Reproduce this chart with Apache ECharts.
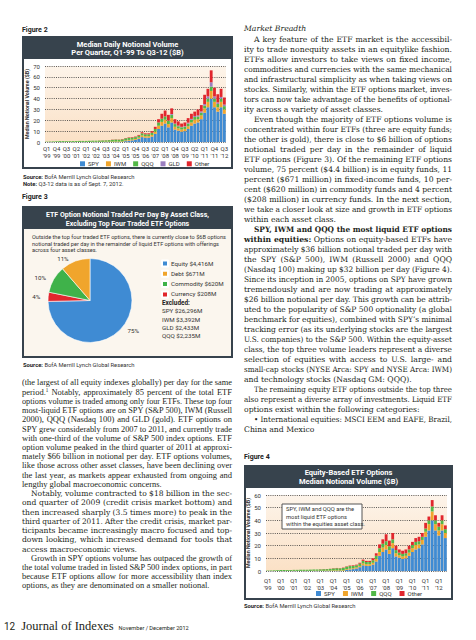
<!DOCTYPE html>
<html><head><meta charset="utf-8">
<script src="https://cdn.jsdelivr.net/npm/echarts@6/dist/echarts.min.js"></script>
<style>
html,body{margin:0;padding:0;background:#fff;}
#page{position:relative;width:476px;height:640px;overflow:hidden;background:#fff;}
#chart{position:absolute;left:0;top:0;width:476px;height:640px;}
.ln{white-space:nowrap;color:#231f20;position:absolute;}
.ln span{display:inline-block;transform-origin:0 50%;}
.ln sup{font-size:60%;line-height:0;vertical-align:3px;}
</style></head>
<body><div id="page"><div id="chart"></div></div>
<script>
// ---------------- data ----------------
const years = ["'99","'00","'01","'02","'03","'04","'05","'06","'07","'08","'09","'10","'11","'12"];
const quarterNames = ['Q1','Q2','Q3','Q4'];
const quarterCount = 55; // Q1-99 .. Q3-12

const spy = [0,0,0,0, 0,0,0,0, 0,0,0,0, 0,0,0,0, 0,0,0,0, 0,0,0,0,
  0.8,1.2,1.5,2.0, 3.0,4.5,4.0,4.0, 5.0,7.5,12.0,15.0, 17.0,13.5,18.0,11.5,
  10.5,9.5,10.0,12.0, 15.0,17.0,18.0,21.0, 27.0,32.0,40.0,32.0, 28.0,32.0,26.0];
const iwm = [0,0,0,0, 0,0,0.1,0.1, 0.1,0.1,0.1,0.1, 0.1,0.1,0.2,0.2, 0.2,0.2,0.3,0.3, 0.4,0.4,0.4,0.5,
  0.6,0.7,0.7,0.8, 1.0,1.5,1.3,1.3, 1.5,2.0,3.0,3.5, 3.5,3.0,4.0,2.5,
  2.0,2.0,2.0,2.5, 3.0,3.5,3.0,3.5, 4.0,5.0,7.0,5.0, 4.0,5.0,4.0];
const qqq = [0.3,0.4,0.5,0.6, 0.8,0.8,0.7,0.7, 0.8,0.8,0.9,0.9, 0.9,1.0,1.0,1.0, 1.1,1.2,1.2,1.4, 1.6,1.8,1.7,1.9,
  2.0,2.0,1.8,1.7, 1.8,2.0,1.8,1.8, 2.0,2.5,3.0,3.0, 3.0,3.0,3.0,2.5,
  2.0,2.0,2.0,2.5, 2.5,2.5,2.5,2.5, 2.5,3.0,4.0,3.0, 3.0,3.0,3.0];
const gld = [0,0,0,0, 0,0,0,0, 0,0,0,0, 0,0,0,0, 0,0,0,0, 0,0,0,0,
  0,0,0,0, 0,0,0,0, 0,0,0,0, 0,0.3,0.8,0.5,
  0.6,0.5,0.6,0.8, 0.8,1.0,1.0,1.2, 1.5,2.0,4.0,2.0, 1.5,1.5,1.5];
const otherAll = [0,0,0,0, 0,0,0,0, 0,0,0,0, 0,0,0,0, 0.1,0.1,0.1,0.1, 0.2,0.2,0.2,0.3,
  0.3,0.4,0.5,0.5, 0.7,1.0,0.9,0.9, 1.5,2.0,3.0,4.5, 5.5,5.2,5.2,4.0,
  3.9,3.0,3.4,4.2, 4.7,4.0,5.5,5.8, 8.5,7.0,11.0,8.0, 7.5,7.5,6.5];
const otherEquity = [0,0,0,0, 0,0,0,0, 0,0,0,0, 0,0,0,0, 0.1,0.1,0.1,0.1, 0.2,0.2,0.2,0.3,
  0.3,0.4,0.5,0.5, 0.7,1.0,0.9,0.9, 1.5,2.0,3.0,3.5, 5.5,4.5,5.0,3.5,
  2.5,2.5,3.0,3.0, 2.5,3.0,3.5,3.0, 4.5,3.0,5.0,4.0, 3.0,4.0,3.0];

const assetNames = ['Equity','Currency','Commodity','Debt'];
const assetValues = [4416, 208, 620, 671];
const legendOrder = ['Equity','Debt','Commodity','Currency'];
const excludedNames = ['SPY','IWM','GLD','QQQ'];
const excludedValues = [26296, 3392, 2433, 2235];

const fig2Ticks = [0,10,20,30,40,50,60,70];
const fig4Ticks = [0,10,20,30,40,50,60];

// ---------------- colours ----------------
const C = {SPY:'#3f8bd3', IWM:'#f0a52c', QQQ:'#52b847', GLD:'#9a7fc0', Other:'#e1262d'};
const pieColors = {Equity:'#3f8bd3', Debt:'#f0a52c', Commodity:'#3fb24a', Currency:'#e1262d'};
const PANEL = '#37434d';
const SANS = 'Roboto, "Noto Sans", sans-serif';

const quarters = [];
for (const y of years) for (const q of quarterNames) if (quarters.length < quarterCount) quarters.push(q + '\n' + y);

const peach = new echarts.graphic.LinearGradient(0,0,0,1,[{offset:0,color:'#fdf4ea'},{offset:1,color:'#fbe1c6'}]);

function xAx(gi, interval, margin){
  return {type:'category', gridIndex:gi, data:quarters, axisTick:{show:false}, axisLine:{show:false},
    axisLabel:{interval:interval, fontSize:6, lineHeight:7, color:'#333', margin:margin, fontFamily:SANS}};
}
function yAx(gi, ticks){
  return {type:'value', gridIndex:gi, min:ticks[0], max:ticks[ticks.length-1], interval:ticks[1]-ticks[0],
    axisLabel:{fontSize:6, color:'#333', margin:5, fontFamily:SANS},
    axisLine:{show:false}, axisTick:{show:false},
    splitLine:{lineStyle:{type:[1,1.2], color:'#333', width:0.8}},
    name:'Median Notional Volume ($B)', nameLocation:'middle', nameGap:14,
    nameTextStyle:{fontSize:5.3, fontWeight:'bold', color:'#333', fontFamily:SANS}};
}
function bar(name, data, gi, stack){
  return {type:'bar', name:name, data:data, stack:stack, xAxisIndex:gi, yAxisIndex:gi,
    barCategoryGap:'14%', itemStyle:{color:C[name]}, emphasis:{disabled:true}, silent:true};
}
function fmt(v){ return '$' + v.toLocaleString('en-US') + 'M'; }
const legendText = {fontSize:6, color:'#333', fontFamily:SANS, padding:[0,0,0,-2]};

const graphics = [
  // panels
  {type:'rect', z:-10, shape:{x:22,y:36,width:211,height:133}, style:{fill:PANEL}},
  {type:'rect', z:-9, shape:{x:24,y:59,width:207,height:108}, style:{fill:'#fff'}},
  {type:'rect', z:-10, shape:{x:22,y:206,width:211,height:152}, style:{fill:PANEL}},
  {type:'rect', z:-9, shape:{x:24,y:229,width:207,height:127}, style:{fill:'#fbf6ee'}},
  {type:'rect', z:-10, shape:{x:244,y:465,width:209,height:135}, style:{fill:PANEL}},
  {type:'rect', z:-9, shape:{x:246,y:488,width:205,height:110}, style:{fill:'#fff'}},
  // figure labels
  {type:'text', x:22, y:30, style:{text:'Figure 2', font:'bold 7px '+SANS, fill:'#222', verticalAlign:'middle'}},
  {type:'text', x:22, y:197, style:{text:'Figure 3', font:'bold 7px '+SANS, fill:'#222', verticalAlign:'middle'}},
  {type:'text', x:244, y:457, style:{text:'Figure 4', font:'bold 7px '+SANS, fill:'#222', verticalAlign:'middle'}},
  // titles
  {type:'text', x:127.5, y:48.5, z:10, style:{text:'Median Daily Notional Volume\nPer Quarter, Q1-99 To Q3-12 ($B)', font:'bold 7.5px '+SANS, lineHeight:8.5, fill:'#fff', align:'center', verticalAlign:'middle'}},
  {type:'text', x:127.5, y:219.5, z:10, style:{text:'ETF Option Notional Traded Per Day By Asset Class,\nExcluding Top Four Traded ETF Options', font:'bold 7px '+SANS, lineHeight:8.5, fill:'#fff', align:'center', verticalAlign:'middle'}},
  {type:'text', x:348.5, y:477, z:10, style:{text:'Equity-Based ETF Options\nMedian Notional Volume ($B)', font:'bold 7.5px '+SANS, lineHeight:8.5, fill:'#fff', align:'center', verticalAlign:'middle'}},
  // fig 3 subtitle
  {type:'text', x:32, y:243.5, z:10, style:{text:'Outside the top four traded ETF options, there is currently close to $6B options\nnotional traded per day in the remainder of liquid ETF options with offerings\nacross four asset classes.', font:'5.6px '+SANS, lineHeight:6.4, fill:'#333', verticalAlign:'middle'}},
  // excluded block
  {type:'text', x:162, y:319.5, z:10, style:{text:'{b|Excluded:}\n' + excludedNames.map((n,i)=>n+' '+fmt(excludedValues[i])).join('\n'),
     font:'6.2px '+SANS, lineHeight:8.2, fill:'#333', verticalAlign:'middle',
     rich:{b:{fontWeight:'bold', fontSize:6.4, fontFamily:SANS, fill:'#222', lineHeight:8.2}}}},
  // sources
  {type:'text', x:23, y:176.5, style:{text:'{b|Source:} BofA Merrill Lynch Global Research', font:'5.8px '+SANS, fill:'#333', verticalAlign:'middle', rich:{b:{fontWeight:'bold', fontSize:5.8, fontFamily:SANS, fill:'#222'}}}},
  {type:'text', x:23, y:184, style:{text:'{b|Note:} Q3-12 data is as of Sept. 7, 2012.', font:'5.8px '+SANS, fill:'#333', verticalAlign:'middle', rich:{b:{fontWeight:'bold', fontSize:5.8, fontFamily:SANS, fill:'#222'}}}},
  {type:'text', x:23, y:365, style:{text:'{b|Source:} BofA Merrill Lynch Global Research', font:'5.8px '+SANS, fill:'#333', verticalAlign:'middle', rich:{b:{fontWeight:'bold', fontSize:5.8, fontFamily:SANS, fill:'#222'}}}},
  {type:'text', x:244, y:606, style:{text:'{b|Source:} BofA Merrill Lynch Global Research', font:'5.8px '+SANS, fill:'#333', verticalAlign:'middle', rich:{b:{fontWeight:'bold', fontSize:5.8, fontFamily:SANS, fill:'#222'}}}},
  // fig 4 annotation
  {type:'group', z:50, children:[
    {type:'rect', z:50, shape:{x:282,y:504,width:80,height:25}, style:{fill:'#fff', stroke:'#555', lineWidth:1}},
    {type:'text', z:51, x:286, y:516.5, style:{text:'SPY, IWM and QQQ are the\nmost liquid ETF options\nwithin the equities asset class.', font:'5.8px '+SANS, lineHeight:7.4, fill:'#333', verticalAlign:'middle'}}
  ]}
];

const option = {
  animation:false,
  backgroundColor:'transparent',
  grid:[
    {left:45, top:66, width:181, height:76, show:true, backgroundColor:peach, borderWidth:0},
    {left:266, top:495, width:181, height:76, show:true, backgroundColor:peach, borderWidth:0}
  ],
  xAxis:[xAx(0,2,2.5), xAx(1,3,5.5)],
  yAxis:[yAx(0,fig2Ticks), yAx(1,fig4Ticks)],
  legend:[
    {data:['SPY','IWM','QQQ','GLD','Other'], left:80, top:160.8, itemWidth:5, itemHeight:5, itemGap:7, icon:'rect',
      textStyle:legendText, selectedMode:false, padding:0},
    {data:['SPY','IWM','QQQ','Other'], left:316, top:590.5, itemWidth:5, itemHeight:5, itemGap:8, icon:'rect',
      textStyle:legendText, selectedMode:false, padding:0},
    {data:legendOrder, left:161, top:259.5, orient:'vertical', itemWidth:6, itemHeight:6, itemGap:2.3, icon:'rect',
      formatter:(n)=>n+' '+fmt(assetValues[assetNames.indexOf(n)]),
      textStyle:{fontSize:6.2, color:'#333', fontFamily:SANS, padding:[0,0,0,-2]}, selectedMode:false, padding:0}
  ],
  graphic:graphics,
  series:[
    bar('SPY', spy, 0, 'f2'), bar('IWM', iwm, 0, 'f2'), bar('QQQ', qqq, 0, 'f2'), bar('GLD', gld, 0, 'f2'), bar('Other', otherAll, 0, 'f2'),
    bar('SPY', spy, 1, 'f4'), bar('IWM', iwm, 1, 'f4'), bar('QQQ', qqq, 1, 'f4'), bar('Other', otherEquity, 1, 'f4'),
    {type:'pie', center:[90,300.5], radius:42, startAngle:90, clockwise:true, silent:true,
      avoidLabelOverlap:false,
      data:assetNames.map((n,i)=>({name:n, value:assetValues[i], itemStyle:{color:pieColors[n]}})),
      itemStyle:{borderColor:'#fff', borderWidth:0.6},
      label:{show:true, position:'outside', formatter:(p)=>Math.round(p.percent)+'%', fontSize:6.2, color:'#333', fontFamily:SANS},
      labelLine:{show:false, length:2, length2:1},
      emphasis:{disabled:true}}
  ]
};
const chart = echarts.init(document.getElementById('chart'), null, {renderer:'svg', width:476, height:640});
chart.setOption(option);

// ---------------- body text ----------------
const page = document.getElementById('page');
const FONTS = {
  A:{size:'8.5px', fam:'"Liberation Serif", serif'},
  B:{size:'7.6px', fam:'"DejaVu Serif", serif'},
  R:{size:'7.7px', fam:'"DejaVu Serif", serif'}
};
function layoutLines(lines, x, w, top0, lh){
  lines.forEach((L,i)=>{
    const [f, mode, ind, html] = L;
    const d = document.createElement('div');
    d.className = 'ln';
    d.style.left = (x+ind)+'px';
    d.style.top = (top0 + i*lh)+'px';
    d.style.fontSize = FONTS[f].size;
    d.style.fontFamily = FONTS[f].fam;
    d.style.height = lh+'px';
    d.style.lineHeight = lh+'px';
    const s = document.createElement('span');
    s.innerHTML = html;
    d.appendChild(s);
    page.appendChild(d);
    const avail = w - ind;
    const nat = s.getBoundingClientRect().width;
    if (nat > avail) { s.style.transform = 'scaleX(' + (avail/nat) + ')'; }
    else if (mode === 'j') {
      const n = (s.textContent.match(/ /g) || []).length;
      if (n) s.style.wordSpacing = ((avail - nat)/n) + 'px';
    }
  });
}
const leftLines = [
 ['A','j',0,'(the largest of all equity indexes globally) per day for the same'],
 ['A','j',0,'period.<sup>1</sup> Notably, approximately 85 percent of the total ETF'],
 ['A','j',0,'options volume is traded among only four ETFs. These top four'],
 ['A','j',0,'most-liquid ETF options are on SPY (S&amp;P 500), IWM (Russell'],
 ['A','j',0,'2000), QQQ (Nasdaq 100) and GLD (gold). ETF options on'],
 ['A','j',0,'SPY grew considerably from 2007 to 2011, and currently trade'],
 ['A','j',0,'with one-third of the volume of S&amp;P 500 index options. ETF'],
 ['A','j',0,'option volume peaked in the third quarter of 2011 at approxi-'],
 ['A','j',0,'mately $66 billion in notional per day. ETF options volumes,'],
 ['A','j',0,'like those across other asset classes, have been declining over'],
 ['A','j',0,'the last year, as markets appear exhausted from ongoing and'],
 ['A','l',0,'lengthy global macroeconomic concerns.'],
 ['B','j',9,'Notably, volume contracted to $18 billion in the sec-'],
 ['B','j',0,'ond quarter of 2009 (credit crisis market bottom) and'],
 ['B','j',0,'then increased sharply (3.5 times more) to peak in the'],
 ['B','j',0,'third quarter of 2011. After the credit crisis, market par-'],
 ['B','j',0,'ticipants became increasingly macro focused and top-'],
 ['B','j',0,'down looking, which increased demand for tools that'],
 ['B','l',0,'access macroeconomic views.'],
 ['A','j',9,'Growth in SPY options volume has outpaced the growth of'],
 ['A','j',0,'the total volume traded in listed S&amp;P 500 index options, in part'],
 ['A','j',0,'because ETF options allow for more accessibility than index'],
 ['A','l',0,'options, as they are denominated on a smaller notional.']
];
const rightLines = [
 ['R','j',10,'A key feature of the ETF market is the accessibil-'],
 ['R','j',0,'ity to trade nonequity assets in an equitylike fashion.'],
 ['R','j',0,'ETFs allow investors to take views on fixed income,'],
 ['R','j',0,'commodities and currencies with the same mechanical'],
 ['R','j',0,'and infrastructural simplicity as when taking views on'],
 ['R','j',0,'stocks. Similarly, within the ETF options market, inves-'],
 ['R','j',0,'tors can now take advantage of the benefits of optional-'],
 ['R','l',0,'ity across a variety of asset classes.'],
 ['R','j',10,'Even though the majority of ETF options volume is'],
 ['R','j',0,'concentrated within four ETFs (three are equity funds;'],
 ['R','j',0,'the other is gold), there is close to $6 billion of options'],
 ['R','j',0,'notional traded per day in the remainder of liquid'],
 ['R','j',0,'ETF options (Figure 3). Of the remaining ETF options'],
 ['R','j',0,'volume, 75 percent ($4.4 billion) is in equity funds, 11'],
 ['R','j',0,'percent ($671 million) in fixed-income funds, 10 per-'],
 ['R','j',0,'cent ($620 million) in commodity funds and 4 percent'],
 ['R','j',0,'($208 million) in currency funds. In the next section,'],
 ['R','j',0,'we take a closer look at size and growth in ETF options'],
 ['R','l',0,'within each asset class.'],
 ['R','j',10,'<b>SPY, IWM and QQQ the most liquid ETF options</b>'],
 ['R','j',0,'<b>within equities:</b> Options on equity-based ETFs have'],
 ['R','j',0,'approximately $36 billion notional traded per day with'],
 ['R','j',0,'the SPY (S&amp;P 500), IWM (Russell 2000) and QQQ'],
 ['R','j',0,'(Nasdaq 100) making up $32 billion per day (Figure 4).'],
 ['R','j',0,'Since its inception in 2005, options on SPY have grown'],
 ['R','j',0,'tremendously and are now trading at approximately'],
 ['R','j',0,'$26 billion notional per day. This growth can be attrib-'],
 ['R','j',0,'uted to the popularity of S&amp;P 500 optionality (a global'],
 ['R','j',0,'benchmark for equities), combined with SPY\u2019s minimal'],
 ['R','j',0,'tracking error (as its underlying stocks are the largest'],
 ['R','j',0,'U.S. companies) to the S&amp;P 500. Within the equity-asset'],
 ['R','j',0,'class, the top three volume leaders represent a diverse'],
 ['R','j',0,'selection of equities with access to U.S. large- and'],
 ['R','j',0,'small-cap stocks (NYSE Arca: SPY and NYSE Arca: IWM)'],
 ['R','l',0,'and technology stocks (Nasdaq GM: QQQ).'],
 ['R','j',10,'The remaining equity ETF options outside the top three'],
 ['R','j',0,'also represent a diverse array of investments. Liquid ETF'],
 ['R','l',0,'options exist within the following categories:'],
 ['R','j',10,'\u2022 International equities: MSCI EEM and EAFE, Brazil,'],
 ['R','l',0,'China and Mexico']
];
layoutLines(leftLines, 22, 210, 378.4, 9.23);
layoutLines([['R','l',0,'<i>Market Breadth</i>']], 244, 208, 24, 10);
layoutLines(rightLines, 244, 208, 35, 10.0);

// footer
const foot = document.createElement('div');
foot.style.cssText = 'position:absolute;left:4px;top:616px;height:18px;line-height:18px;white-space:nowrap;color:#231f20;';
foot.innerHTML = '<span style="font:10px Roboto,sans-serif;">12</span>' +
  '<span style="font:12.5px \'Liberation Serif\',serif;margin-left:6px;">Journal of Indexes</span>' +
  '<span style="font:5.6px Roboto,sans-serif;margin-left:5px;">November / December 2012</span>';
page.appendChild(foot);
</script>
</body></html>
